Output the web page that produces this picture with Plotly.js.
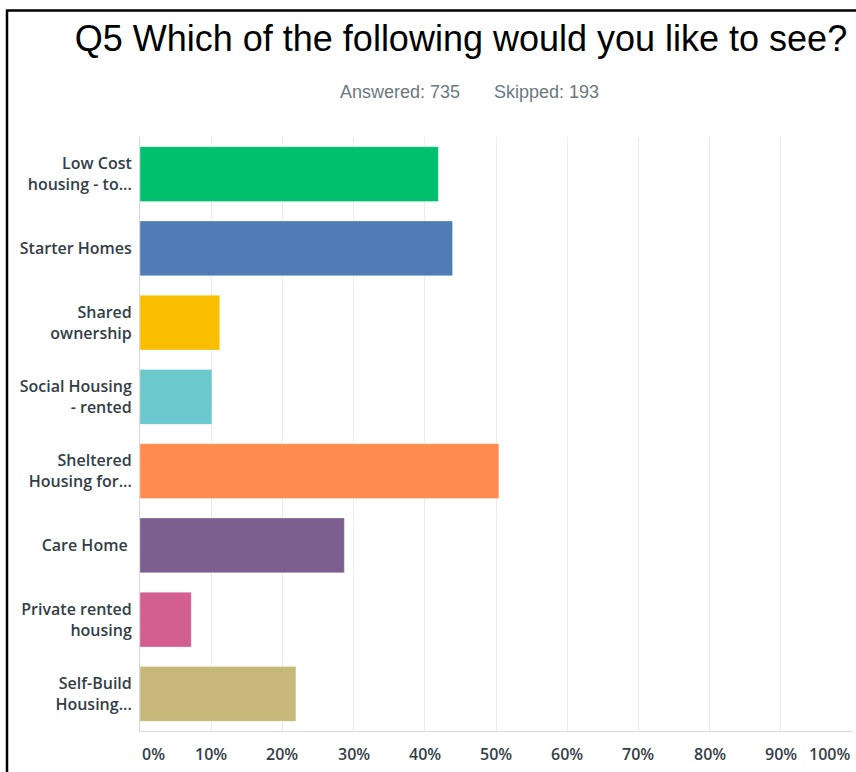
<!DOCTYPE html>
<html>
<head>
<meta charset="utf-8">
<script src="https://cdn.plot.ly/plotly-3.0.1.min.js"></script>
<style>
html, body { margin: 0; padding: 0; background: #ffffff; }
#chart { width: 856px; height: 772px; }
</style>
</head>
<body>
<div id="chart"></div>
<script>
const categories = [
  "Low Cost<br>housing - to...",
  "Starter Homes",
  "Shared<br>ownership",
  "Social Housing<br>- rented",
  "Sheltered<br>Housing for...",
  "Care Home ",
  "Private rented<br>housing",
  "Self-Build<br>Housing..."
];
const percentValues = [41.9, 43.9, 11.2, 10.1, 50.4, 28.7, 7.2, 21.9];
const barColors = ["#00BF6F", "#507CB6", "#F9BE00", "#6BC8CD", "#FF8B4F", "#7D5E90", "#D25F90", "#C7B879"];
const tickValues = [0, 10, 20, 30, 40, 50, 60, 70, 80, 90, 100];
const tickLabels = ["0%", "10%", "20%", "30%", "40%", "50%", "60%", "70%", "80%", "90%", "100%"];
const titleText = "Q5 Which of the following would you like to see?";
const answeredText = "Answered: 735";
const skippedText = "Skipped: 193";

const labelFont = { family: "Open Sans, Noto Sans, sans-serif", size: 16, color: "#333e48", weight: 600 };

const trace = {
  type: "bar",
  orientation: "h",
  y: categories,
  x: percentValues,
  marker: { color: barColors, line: { color: "rgba(255,255,255,0.35)", width: 1 } },
  hoverinfo: "x+y"
};

const tickAnnotations = tickValues.map((v, i) => ({
  x: v, xref: "x", y: -0.0387, yref: "paper",
  text: tickLabels[i], showarrow: false,
  xanchor: i === 0 ? "left" : (i === tickValues.length - 1 ? "right" : "center"),
  yanchor: "middle",
  font: labelFont
}));

const layout = {
  width: 856, height: 772,
  margin: { l: 140, r: 4, t: 137, b: 41 },
  paper_bgcolor: "#ffffff",
  plot_bgcolor: "#ffffff",
  showlegend: false,
  bargap: 0.26,
  title: {
    text: titleText,
    font: { family: "Liberation Sans, Arial, sans-serif", size: 36, color: "#000000" },
    x: 0.5385, xanchor: "center", xref: "container",
    y: 1 - 38 / 772, yanchor: "middle", yref: "container"
  },
  xaxis: {
    range: [0, 100],
    tickvals: tickValues,
    showticklabels: false,
    showgrid: true, gridcolor: "#ececec", gridwidth: 1,
    zeroline: false,
    showline: true, linecolor: "#d9d9d9", linewidth: 1,
    ticks: "",
    fixedrange: true
  },
  yaxis: {
    type: "category",
    autorange: "reversed",
    ticks: "",
    ticklabelstandoff: 4,
    tickfont: labelFont,
    showline: true, linecolor: "#d9d9d9", linewidth: 1,
    showgrid: false, zeroline: false,
    fixedrange: true
  },
  annotations: tickAnnotations.concat([
    { x: (400 - 140) / 712, xref: "paper", y: 1 + (137 - 92) / 594, yref: "paper",
      text: answeredText, showarrow: false, xanchor: "center", yanchor: "middle",
      font: { family: "Liberation Sans, Arial, sans-serif", size: 18, color: "#6b7880" } },
    { x: (546 - 140) / 712, xref: "paper", y: 1 + (137 - 92) / 594, yref: "paper",
      text: skippedText, showarrow: false, xanchor: "center", yanchor: "middle",
      font: { family: "Liberation Sans, Arial, sans-serif", size: 18, color: "#6b7880" } }
  ]),
  shapes: [
    { type: "line", xref: "paper", yref: "paper",
      x0: (7 - 140) / 712, x1: (7 - 140) / 712, y0: 1 + (137 - 10) / 594, y1: (731 - 780) / 594,
      line: { color: "#000000", width: 2.5 } },
    { type: "line", xref: "paper", yref: "paper",
      x0: (6 - 140) / 712, x1: (870 - 140) / 712, y0: 1 + (137 - 10.5) / 594, y1: 1 + (137 - 10.5) / 594,
      line: { color: "#000000", width: 2.5 } }
  ]
};

Plotly.newPlot("chart", [trace], layout, { displayModeBar: false, staticPlot: true });
</script>
</body>
</html>
